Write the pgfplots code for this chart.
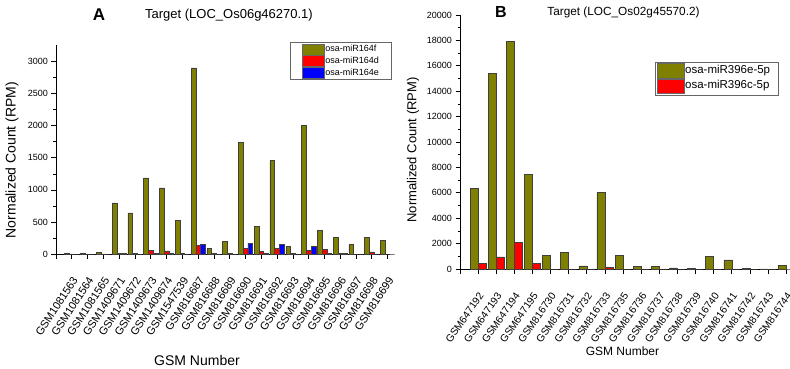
\documentclass[border=0pt]{standalone}
\usepackage{fontspec}
\setmainfont{Liberation Sans}
\usepackage{pgfplots}
\usepackage{pgfplotstable}
\pgfplotsset{compat=1.18}
\definecolor{olivebar}{RGB}{128,128,0}
\definecolor{redbar}{RGB}{255,0,0}
\definecolor{bluebar}{RGB}{0,0,255}

\pgfplotstableread{
x olive red blue
0 10 0 0
1 10 0 0
2 20 3 0
3 797 12 8
4 640 12 0
5 1187 62 10
6 1030 48 12
7 525 12 0
8 2905 137 150
9 83 12 0
10 192 12 0
11 1745 87 170
12 432 45 8
13 1462 90 145
14 120 5 0
15 2005 60 115
16 365 75 5
17 260 12 5
18 146 0 0
19 255 33 0
20 218 0 0
}\tableA

\pgfplotstableread{
x olive red
0 6350 430
1 15400 950
2 17900 2080
3 7480 430
4 1050 0
5 1300 0
6 250 0
7 6010 150
8 1100 0
9 200 0
10 210 0
11 90 0
12 40 0
13 1000 0
14 710 0
15 40 0
16 10 0
17 290 0
}\tableB

\pgfplotsset{
  common/.style={
    scale only axis,
    axis lines*=left,
    axis line style={black, line width=0.8pt},
    tick style={black, line width=0.7pt},
    tick align=outside,
    major tick length=4.5pt,
    minor tick length=2.5pt,
    minor y tick num=1,
    ybar,
    /pgf/number format/assume math mode=true,
    /pgf/number format/1000 sep={},
    scaled y ticks=false,
    yticklabel style={font=\fontsize{9}{10}\selectfont},
    clip=false,
  },
  barA/.style={fill=#1, draw=black!75, line width=0.5pt},
}

\begin{document}
\begin{tikzpicture}
\path[use as bounding box] (0pt,0pt) rectangle (790pt,-368pt);

% ---------- Panel A ----------
\begin{axis}[common,
  at={(56pt,-254pt)}, anchor=south west,
  width=334pt, height=209pt,
  xmin=-1, xmax=20.15, ymin=0, ymax=3260,
  ytick={0,500,...,3000},
  xtick={-1,0,...,20},
  xticklabels={,GSM1081563,GSM1081564,GSM1081565,GSM1409671,GSM1409672,GSM1409673,GSM1409674,GSM1547539,GSM816687,GSM816688,GSM816689,GSM816690,GSM816691,GSM816692,GSM816693,GSM816694,GSM816695,GSM816696,GSM816697,GSM816698,GSM816699},
  xticklabel style={font=\fontsize{11}{12}\selectfont, rotate=57, anchor=north east, inner sep=0pt},
  xticklabel shift=17pt,
  legend style={at={(1.005,1.013)}, anchor=north east, draw=black!60, line width=0.5pt,
    font=\fontsize{9}{10}\selectfont, inner sep=1pt, row sep=0pt,
    /tikz/every even column/.append style={column sep=1pt},
    nodes={inner sep=0.5pt, text height=7.5pt, text depth=2.5pt}},
  legend cell align=left,
  legend image code/.code={\path (0pt,0pt); \draw[#1, draw=black!60] (11pt,-5.6pt) rectangle (33pt,5.6pt);},
]
\addplot[barA=olivebar, bar width=0.3, bar shift=-0.3] table[x=x, y=olive] {\tableA};
\addplot[barA=redbar, bar width=0.3, bar shift=0] table[x=x, y=red] {\tableA};
\addplot[barA=bluebar, bar width=0.3, bar shift=0.3] table[x=x, y=blue] {\tableA};
\legend{osa-miR164f\hspace*{11pt}, osa-miR164d\hspace*{11pt}, osa-miR164e\hspace*{11pt}}
\end{axis}

% ---------- Panel B ----------
\begin{axis}[common,
  at={(460pt,-269pt)}, anchor=south west,
  width=327pt, height=254pt,
  xmin=-1, xmax=17.05, ymin=0, ymax=20000,
  ytick={0,2000,...,20000},
  xtick={-1,0,...,17},
  xticklabels={,GSM647192,GSM647193,GSM647194,GSM647195,GSM816730,GSM816731,GSM816732,GSM816733,GSM816735,GSM816736,GSM816737,GSM816738,GSM816739,GSM816740,GSM816741,GSM816742,GSM816743,GSM816744},
  xticklabel style={font=\fontsize{10.3}{12}\selectfont, rotate=55, anchor=north east, inner sep=0pt},
  xticklabel shift=18pt,
  legend style={at={(0.596,0.816)}, anchor=north west, draw=black!60, line width=0.5pt,
    font=\fontsize{11.5}{12}\selectfont, inner sep=1.5pt, row sep=0pt,
    /tikz/every even column/.append style={column sep=1pt},
    nodes={inner sep=1pt, text height=8.5pt, text depth=3pt}},
  legend cell align=left,
  legend image code/.code={\draw[#1, draw=black!60] (0pt,-7.3pt) rectangle (27pt,7.3pt);},
]
\addplot[barA=olivebar, bar width=0.44, bar shift=-0.22] table[x=x, y=olive] {\tableB};
\addplot[barA=redbar, bar width=0.44, bar shift=0.22] table[x=x, y=red] {\tableB};
\legend{osa-miR396e-5p\hspace*{6pt}, osa-miR396c-5p\hspace*{6pt}}
\end{axis}

% ---------- titles and labels ----------
\node[font=\fontsize{17}{17}\selectfont\bfseries] at (99pt,-14.5pt) {A};
\node[font=\fontsize{13}{13}\selectfont] at (229pt,-15pt) {Target (LOC\_Os06g46270.1)};
\node[font=\fontsize{16}{16}\selectfont\bfseries] at (501pt,-11.5pt) {B};
\node[font=\fontsize{11.8}{12}\selectfont] at (623.5pt,-12pt) {Target (LOC\_Os02g45570.2)};
\node[font=\fontsize{14}{14}\selectfont, rotate=90] at (12pt,-160pt) {Normalized Count (RPM)};
\node[font=\fontsize{13}{13}\selectfont, rotate=90] at (413pt,-150pt) {Normalized Count (RPM)};
\node[font=\fontsize{14}{14}\selectfont] at (197pt,-360pt) {GSM Number};
\node[font=\fontsize{12}{12}\selectfont] at (622.5pt,-351pt) {GSM Number};
\end{tikzpicture}
\end{document}
